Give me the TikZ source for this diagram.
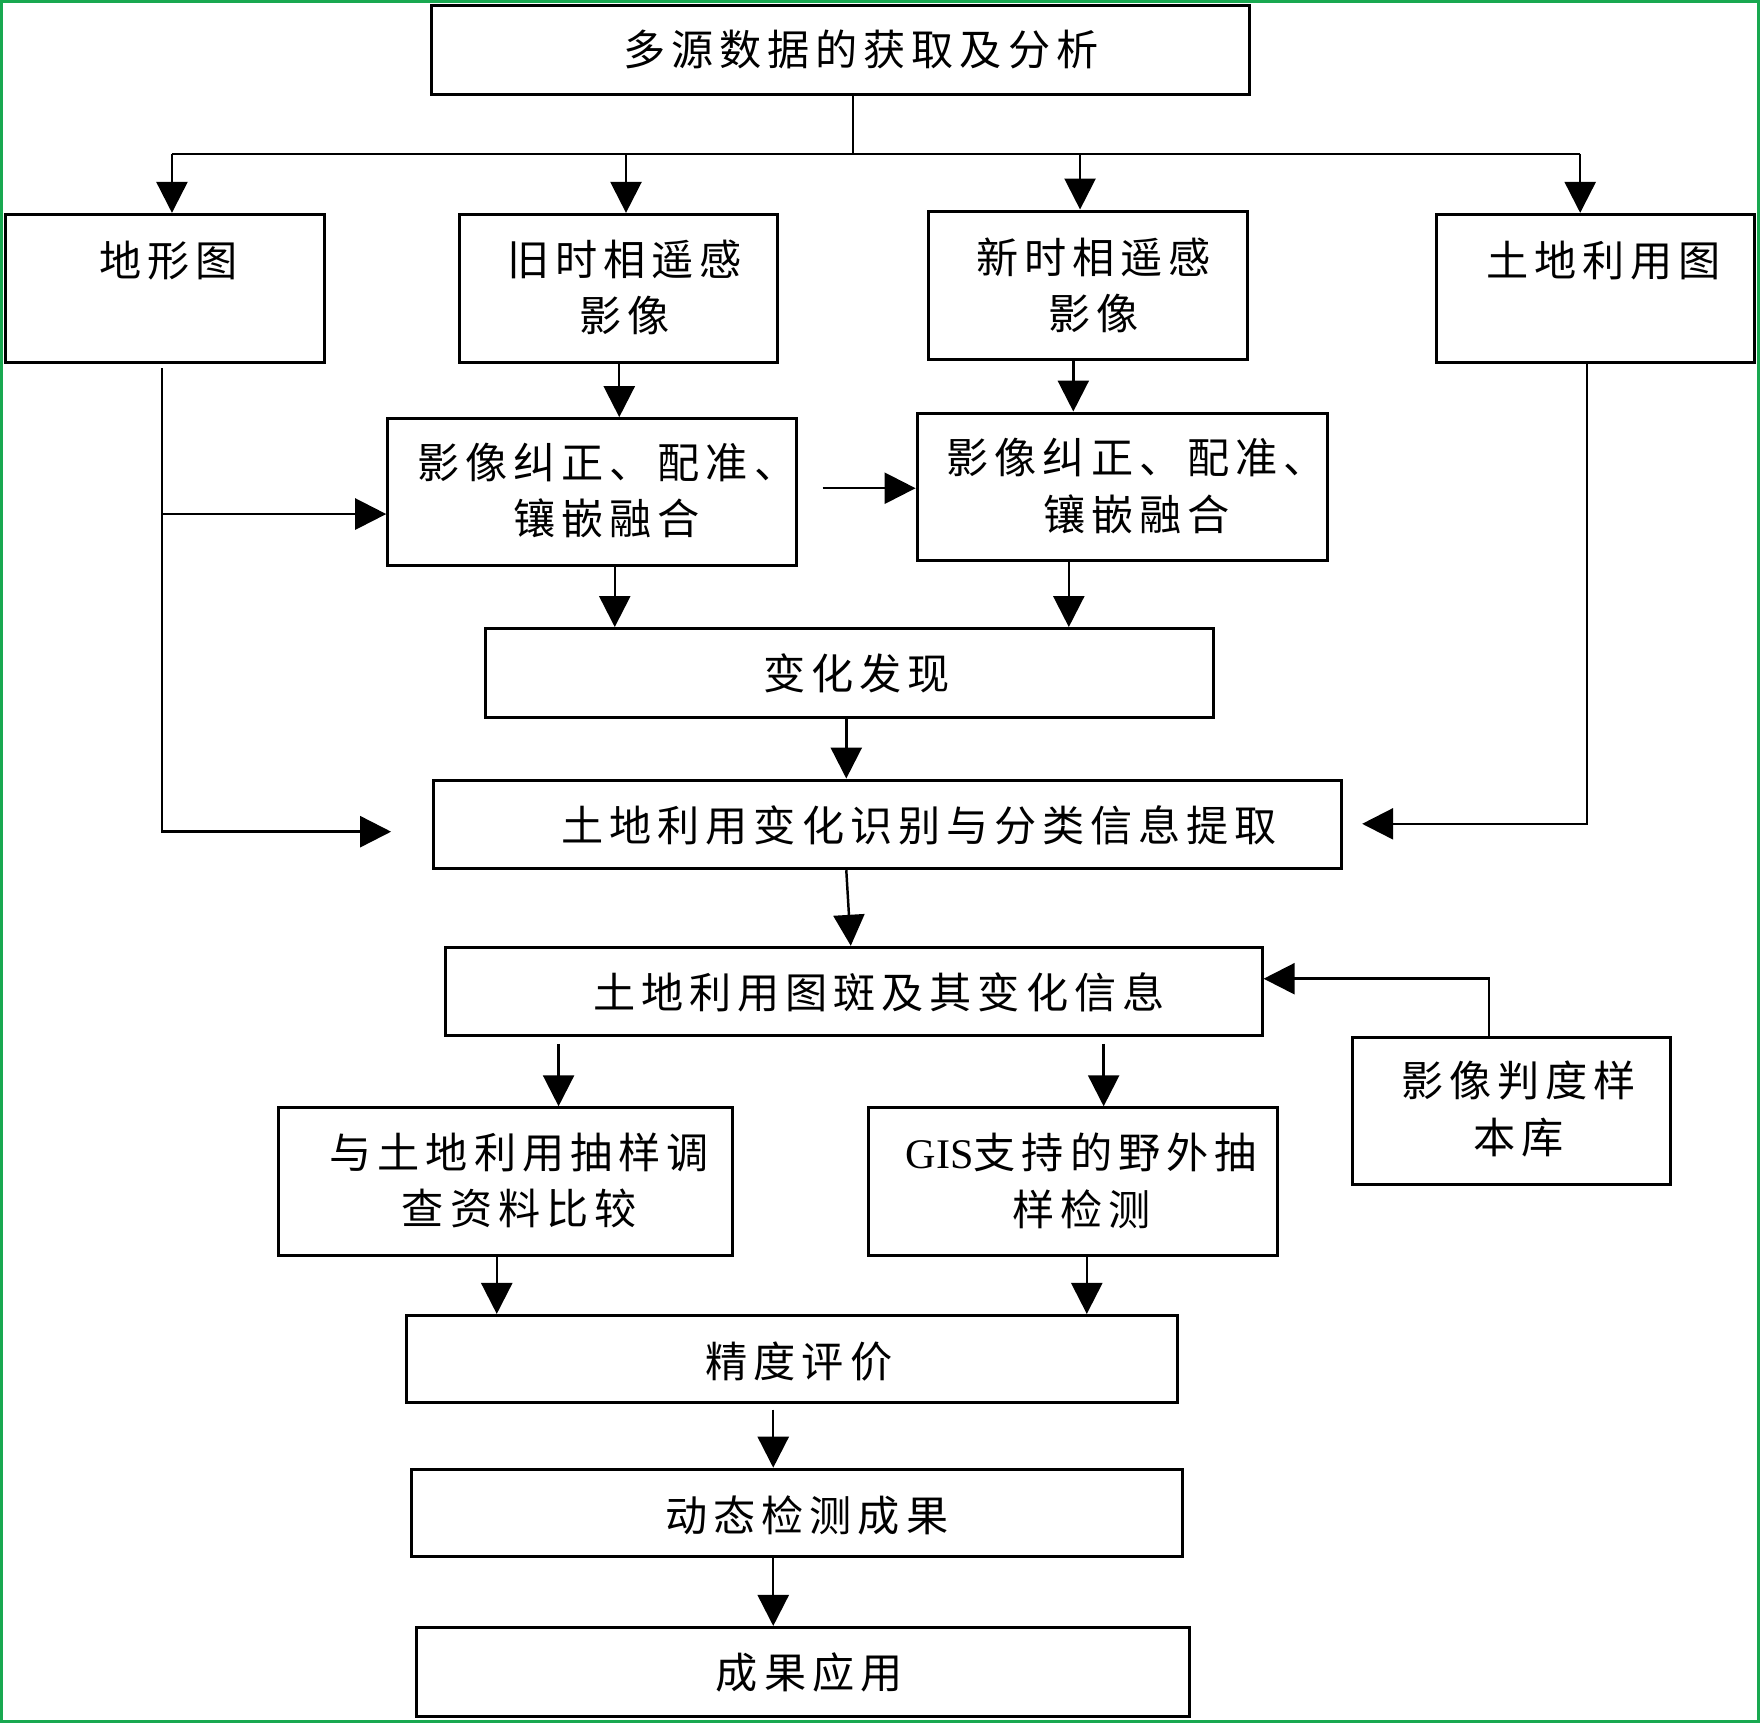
\documentclass[tikz,border=0pt]{standalone}
\usepackage{fontspec}
\setmainfont{Noto Sans CJK SC}[LetterSpace=14]
\newfontfamily\latinfont{Liberation Serif}
\usetikzlibrary{arrows.meta,fit}
\definecolor{framegreen}{RGB}{24,168,80}
\tikzset{>={Triangle[length=0.62cm,width=0.62cm]},
  box/.style={draw,line width=1.7pt,inner sep=0pt},
  txt/.style={align=center,font=\fontsize{24pt}{32pt}\selectfont},
  conn/.style={line width=1.4pt}}

\begin{document}
\begin{tikzpicture}[x=0.022478cm,y=-0.02245cm]
\useasboundingbox (0,0) rectangle (1566,1535);
\draw[framegreen,line width=1.7pt] (1.3,1.3) rectangle (1564.7,1533.7);

% boxes
\node[box,fit={(384,5) (1112,84)}] (src) {};
\node[txt] (src_t) at (766,44) {多源数据的获取及分析};
\node[box,fit={(5,191) (289,323)}] (topo) {};
\node[txt] (topo_t) at (150,232) {地形图};
\node[box,fit={(409,191) (692,323)}] (old) {};
\node[txt] (old_t) at (556,256) {旧时相遥感\\影像};
\node[box,fit={(826,188) (1110,320)}] (new) {};
\node[txt] (new_t) at (973,254) {新时相遥感\\影像};
\node[box,fit={(1278,191) (1561,323)}] (lu) {};
\node[txt] (lu_t) at (1427,232) {土地利用图};

\node[box,fit={(345,373) (709,504)}] (fix1) {};
\node[txt] (fix1_t) at (540,437) {影像纠正、配准、\\镶嵌融合};
\node[box,fit={(816,368) (1181,499)}] (fix2) {};
\node[txt] (fix2_t) at (1011,433) {影像纠正、配准、\\镶嵌融合};

\node[box,fit={(432,560) (1080,639)}] (chg) {};
\node[txt] (chg_t) at (762,600) {变化发现};
\node[box,fit={(386,695) (1194,774)}] (ident) {};
\node[txt] (ident_t) at (818,735) {土地利用变化识别与分类信息提取};
\node[box,fit={(396,844) (1123,923)}] (patch) {};
\node[txt] (patch_t) at (782,884) {土地利用图斑及其变化信息};
\node[box,fit={(1203,924) (1486,1055)}] (samp) {};
\node[txt] (samp_t) at (1351,988) {影像判度样\\本库};

\node[box,fit={(248,987) (652,1119)}] (comp) {};
\node[txt] (comp_t) at (462,1052) {与土地利用抽样调\\查资料比较};
\node[box,fit={(773,987) (1137,1119)}] (gis) {};
\node[txt] (gis_t) at (962,1052) {{\latinfont GIS}支持的野外抽\\样检测};

\node[box,fit={(362,1172) (1048,1250)}] (acc) {};
\node[txt] (acc_t) at (711,1213) {精度评价};
\node[box,fit={(366,1309) (1052,1387)}] (dyn) {};
\node[txt] (dyn_t) at (718,1350) {动态检测成果};
\node[box,fit={(371,1450) (1058,1529)}] (app) {};
\node[txt] (app_t) at (720,1490) {成果应用};

% connectors
\coordinate (bar) at (759,137);
\coordinate (barL) at (153,137);
\coordinate (barB) at (557,137);
\coordinate (barC) at (961,137);
\coordinate (barR) at (1406,137);
\draw[conn] (src.south -| bar) -- (bar);
\draw[conn] (barL) -- (barR);
\draw[conn,->] (barL) -- (barL |- topo.north);
\draw[conn,->] (barB) -- (barB |- old.north);
\draw[conn,->] (barC) -- (barC |- new.north);
\draw[conn,->] (barR) -- (barR |- lu.north);

\draw[conn,->] (old.south -| 551,0) -- (fix1.north -| 551,0);
\draw[conn,->] (new.south -| 955,0) -- (fix2.north -| 955,0);
\coordinate (m1) at (732,435);
\draw[conn,->] (m1) -- (m1 -| fix2.west);

\coordinate (l1) at (144,328);
\coordinate (l3) at (144,458);
\coordinate (l4) at (348,741);
\draw[conn,->] (l1) |- (l4);
\draw[conn,->] (l3) -- (l3 -| fix1.west);

\coordinate (r1) at (1412,322);
\coordinate (r3) at (1212,734);
\draw[conn,->] (r1) |- (r3);

\draw[conn,->] (fix1.south -| 547,0) -- (chg.north -| 547,0);
\draw[conn,->] (fix2.south -| 951,0) -- (chg.north -| 951,0);
\draw[conn,->] (chg.south -| 753,0) -- (ident.north -| 753,0);
\draw[conn,->] (ident.south -| 753,0) -- (patch.north -| 757,0);
\draw[conn,->] (samp.north -| 1325,0) |- (patch.east |- 0,872);

\coordinate (p1) at (497,930);
\coordinate (p2) at (982,930);
\draw[conn,->] (p1) -- (p1 |- comp.north);
\draw[conn,->] (p2) -- (p2 |- gis.north);
\draw[conn,->] (comp.south -| 442,0) -- (acc.north -| 442,0);
\draw[conn,->] (gis.south -| 967,0) -- (acc.north -| 967,0);
\coordinate (q1) at (688,1256);
\draw[conn,->] (q1) -- (q1 |- dyn.north);
\draw[conn,->] (dyn.south -| 688,0) -- (app.north -| 688,0);
\end{tikzpicture}
\end{document}
